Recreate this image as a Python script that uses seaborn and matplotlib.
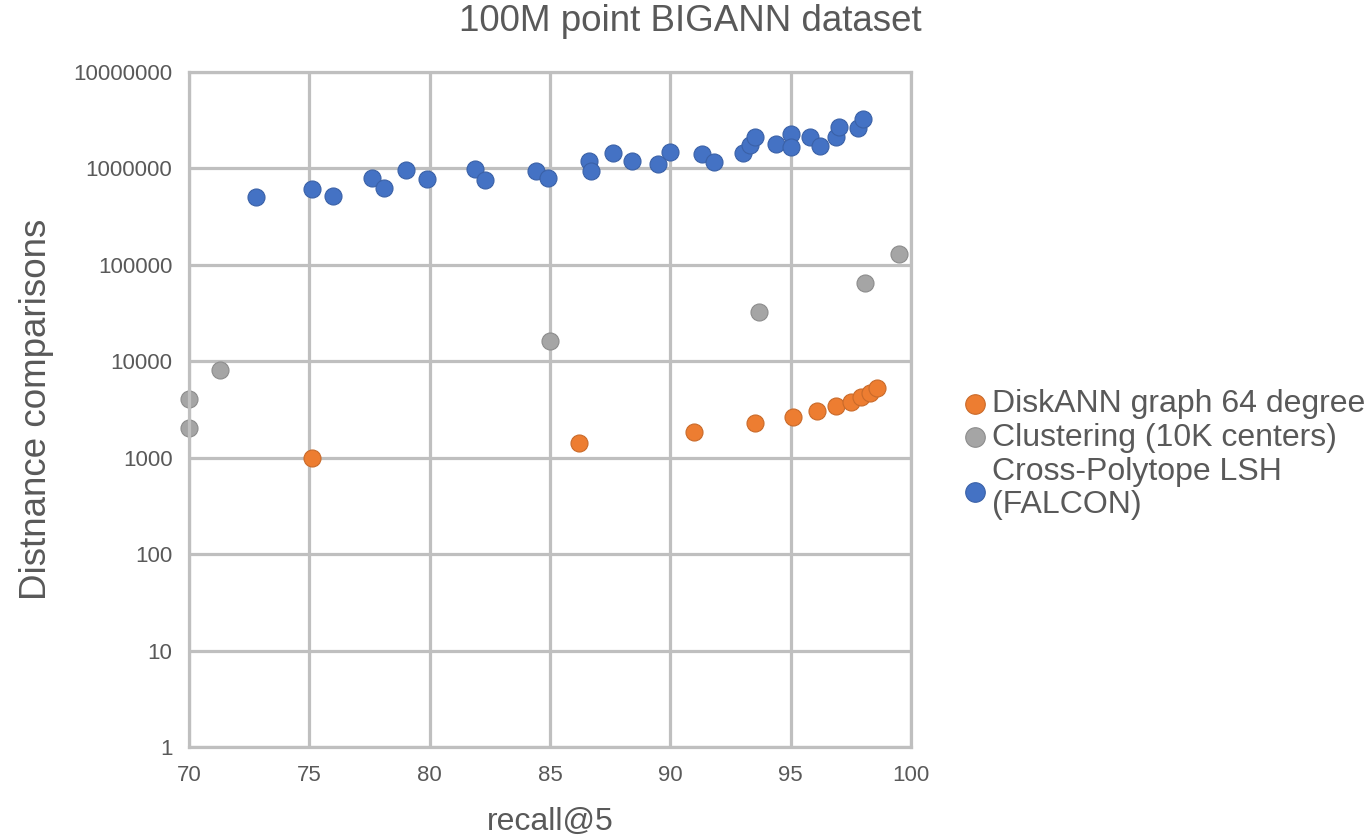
import numpy as np
import pandas as pd
import matplotlib
matplotlib.use("Agg")
import matplotlib.pyplot as plt
from matplotlib.ticker import FixedLocator, FixedFormatter
import seaborn as sns

# recall@5 vs. distance comparisons for three ANN methods
diskann_recall = [75.1, 86.2, 91.0, 93.5, 95.1, 96.1, 96.9, 97.5, 97.9, 98.3, 98.6]
diskann_comps = [1000, 1430, 1850, 2270, 2660, 3070, 3460, 3800, 4230, 4650, 5300]

cluster_recall = [70.0, 70.0, 71.3, 85.0, 93.7, 98.1, 99.5]
cluster_comps = [2020, 4030, 8100, 16300, 32600, 65000, 129000]

lsh_recall = [72.8, 75.1, 76.0, 77.6, 78.1, 79.0, 79.9, 81.9, 82.3, 84.4, 84.9,
              86.6, 86.7, 87.6, 88.4, 89.5, 90.0, 91.3, 91.8, 93.0, 93.3, 93.5,
              94.4, 95.0, 95.0, 95.8, 96.2, 96.9, 97.0, 97.8, 98.0]
lsh_comps = [499000, 614000, 515000, 786000, 628000, 958000, 778000, 975000, 755000,
             935000, 786000, 1200000, 942000, 1430000, 1190000, 1110000, 1460000,
             1400000, 1170000, 1430000, 1740000, 2090000, 1770000, 2260000, 1650000,
             2120000, 1700000, 2090000, 2690000, 2590000, 3240000]

series_names = ["DiskANN graph 64 degree", "Clustering (10K centers)",
                "Cross-Polytope LSH\n(FALCON)"]
series_colors = ["#ED7D31", "#A5A5A5", "#4472C4"]

y_ticks = [1, 10, 100, 1000, 10000, 100000, 1000000, 10000000]
x_ticks = [70, 75, 80, 85, 90, 95, 100]

frames = [
    pd.DataFrame({"recall": diskann_recall, "comps": diskann_comps}),
    pd.DataFrame({"recall": cluster_recall, "comps": cluster_comps}),
    pd.DataFrame({"recall": lsh_recall, "comps": lsh_comps}),
]

sns.set_style("white")
plt.rcParams["font.family"] = ["Liberation Sans", "DejaVu Sans"]

fig = plt.figure(figsize=(13.7, 8.38), dpi=100)
ax = fig.add_axes([0.138, 0.1086, 0.527, 0.8058])

grid_color = "#BFBFBF"
text_color = "#595959"
ax.set_yscale("log")
ax.set_xlim(70, 100)
ax.set_ylim(1, 1e7)
ax.xaxis.set_major_locator(FixedLocator(x_ticks))
ax.yaxis.set_major_locator(FixedLocator(y_ticks))
ax.yaxis.set_major_formatter(FixedFormatter([str(v) for v in y_ticks]))
ax.yaxis.set_minor_locator(FixedLocator([]))
ax.grid(True, which="major", color=grid_color, linewidth=2.3)
ax.set_axisbelow(True)
for sp in ax.spines.values():
    sp.set_color(grid_color)
    sp.set_linewidth(2.3)
ax.tick_params(axis="both", which="both", length=0, labelsize=16, colors=text_color)
ax.tick_params(axis="y", pad=12)
ax.tick_params(axis="x", pad=13)

for frame, name, color in zip(frames, series_names, series_colors):
    edge = tuple(np.array(matplotlib.colors.to_rgb(color)) * 0.85)
    sns.scatterplot(data=frame, x="recall", y="comps", color=color, label=name,
                    s=150, linewidth=0.8, edgecolor=edge, ax=ax, clip_on=False)

ax.set_xlabel("recall@5", fontsize=23, color=text_color, labelpad=15)
ax.set_ylabel("Distnance comparisons", fontsize=26.5, color=text_color, labelpad=14)
fig.suptitle("100M point BIGANN dataset", x=0.504, y=0.995, fontsize=26.5, color=text_color)

handles, labels = ax.get_legend_handles_labels()
leg = ax.legend(handles, labels, loc="center left", bbox_to_anchor=(1.026, 0.433),
                frameon=False, fontsize=23, labelcolor=text_color,
                handletextpad=-0.45, labelspacing=0.12, markerscale=1.15,
                borderaxespad=0)
for t in leg.get_texts():
    t.set_linespacing(1.15)

fig.savefig("out.png", dpi=100)
